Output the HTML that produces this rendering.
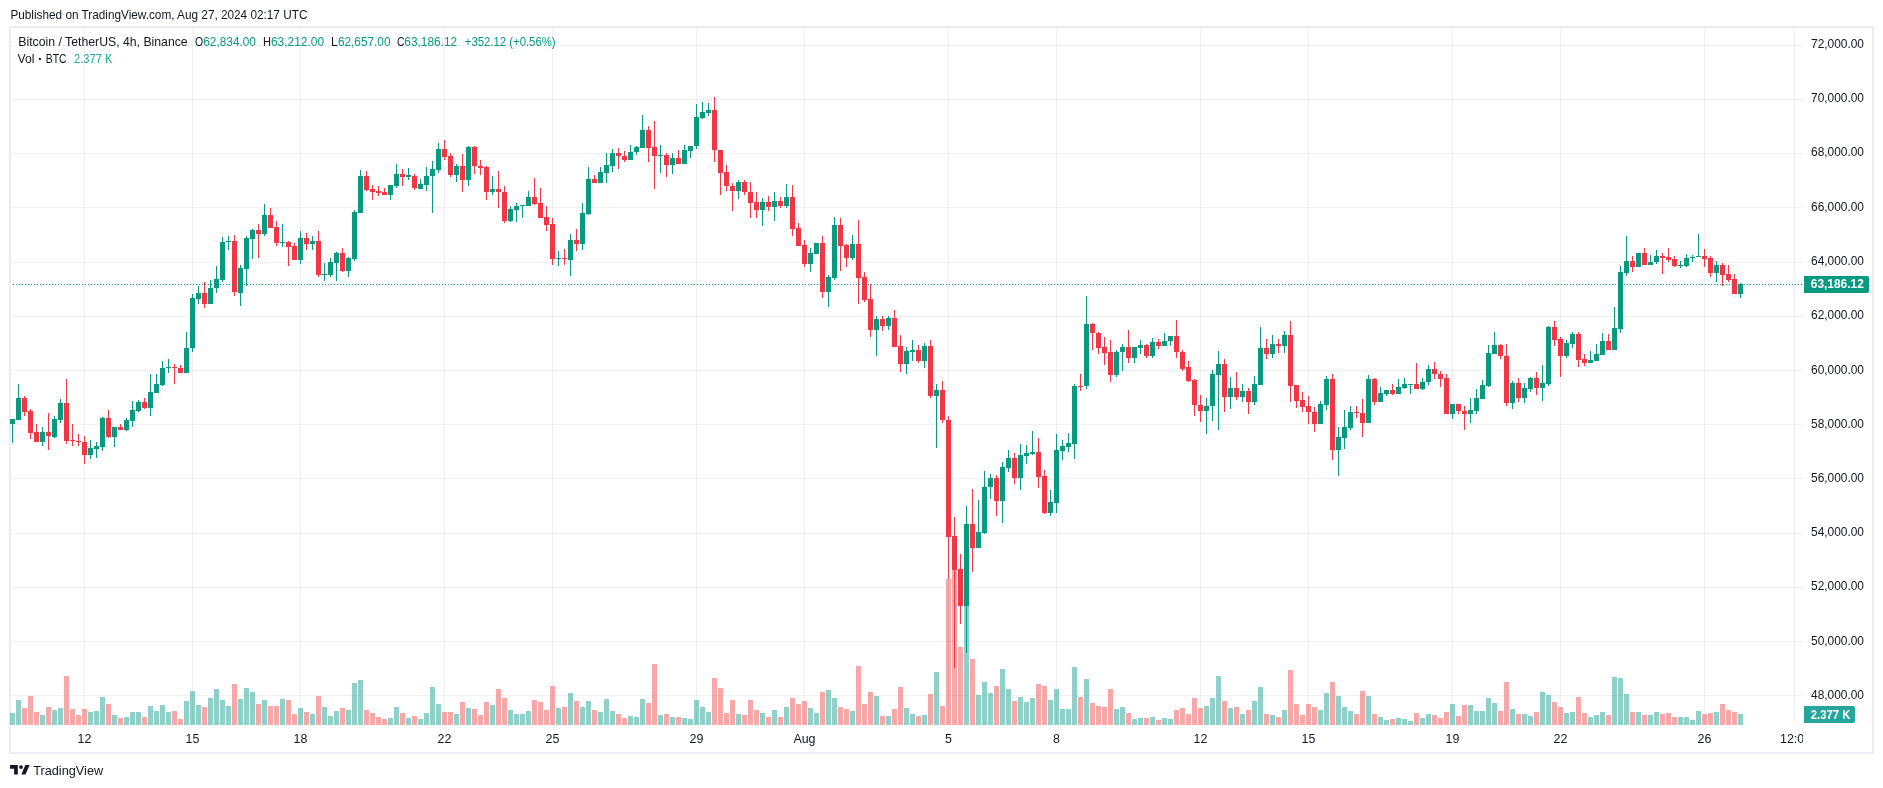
<!DOCTYPE html><html><head><meta charset="utf-8"><title>BTCUSDT 4h chart</title><style>html,body{margin:0;padding:0;background:#fff;}body{width:1883px;height:788px;overflow:hidden;position:relative;font-family:"Liberation Sans", sans-serif;}svg{position:absolute;left:0;top:0;display:block;will-change:transform;}text{font-family:"Liberation Sans",sans-serif;}</style></head><body><svg width="1883" height="788" viewBox="0 0 1883 788"><defs><clipPath id="pane"><rect x="10" y="28" width="1793" height="697"/></clipPath></defs><text x="10.4" y="19" font-size="13" fill="#131722" textLength="297" lengthAdjust="spacingAndGlyphs">Published on TradingView.com, Aug 27, 2024 02:17 UTC</text><rect x="10" y="27" width="1863" height="726" fill="none" stroke="#ecedf2" stroke-width="2"/><path d="M11 45.5H1803M11 99.5H1803M11 153.5H1803M11 207.5H1803M11 262.5H1803M11 316.5H1803M11 370.5H1803M11 424.5H1803M11 478.5H1803M11 533.5H1803M11 587.5H1803M11 641.5H1803M11 695.5H1803" stroke="rgba(42,46,57,0.065)" stroke-width="1" fill="none" shape-rendering="crispEdges"/><path d="M84.5 28V725M192.5 28V725M300.5 28V725M444.5 28V725M552.5 28V725M696.5 28V725M804.5 28V725M948.5 28V725M1056.5 28V725M1200.5 28V725M1308.5 28V725M1452.5 28V725M1560.5 28V725M1704.5 28V725M1794.5 28V725" stroke="rgba(42,46,57,0.065)" stroke-width="1" fill="none" shape-rendering="crispEdges"/><g clip-path="url(#pane)" shape-rendering="crispEdges"><path d="M10 713h5v12h-5zM16 700h5v25h-5zM40 715h5v10h-5zM52 710h5v15h-5zM58 708h5v17h-5zM88 712h5v13h-5zM94 711h5v14h-5zM100 697h5v28h-5zM112 715h5v10h-5zM124 717h5v8h-5zM130 712h5v13h-5zM136 712h5v13h-5zM148 706h5v19h-5zM154 711h5v14h-5zM160 705h5v20h-5zM166 712h5v13h-5zM184 701h5v24h-5zM190 691h5v34h-5zM196 705h5v20h-5zM208 698h5v27h-5zM214 689h5v36h-5zM220 700h5v25h-5zM226 706h5v19h-5zM238 699h5v26h-5zM244 688h5v37h-5zM250 692h5v33h-5zM262 700h5v25h-5zM280 699h5v26h-5zM298 708h5v17h-5zM310 714h5v11h-5zM322 707h5v18h-5zM328 716h5v9h-5zM334 711h5v14h-5zM346 710h5v15h-5zM352 683h5v42h-5zM358 680h5v45h-5zM388 718h5v7h-5zM394 707h5v18h-5zM406 718h5v7h-5zM418 719h5v6h-5zM424 713h5v12h-5zM430 687h5v38h-5zM436 704h5v21h-5zM454 714h5v11h-5zM466 708h5v17h-5zM490 705h5v20h-5zM508 710h5v15h-5zM514 714h5v11h-5zM520 714h5v11h-5zM526 711h5v14h-5zM556 708h5v17h-5zM568 693h5v32h-5zM580 707h5v18h-5zM586 701h5v24h-5zM598 712h5v13h-5zM604 699h5v26h-5zM610 711h5v14h-5zM628 716h5v9h-5zM634 717h5v8h-5zM640 699h5v26h-5zM658 715h5v10h-5zM670 717h5v8h-5zM682 718h5v7h-5zM688 719h5v6h-5zM694 700h5v25h-5zM700 707h5v18h-5zM706 712h5v13h-5zM736 714h5v11h-5zM760 713h5v12h-5zM772 710h5v15h-5zM784 707h5v18h-5zM808 708h5v17h-5zM814 713h5v12h-5zM826 690h5v35h-5zM832 698h5v27h-5zM850 711h5v14h-5zM874 696h5v29h-5zM886 716h5v9h-5zM904 708h5v17h-5zM910 714h5v11h-5zM922 715h5v10h-5zM934 672h5v53h-5zM964 600h5v125h-5zM976 695h5v30h-5zM982 682h5v43h-5zM988 693h5v32h-5zM1000 669h5v56h-5zM1006 689h5v36h-5zM1018 697h5v28h-5zM1024 702h5v23h-5zM1030 698h5v27h-5zM1048 700h5v25h-5zM1054 689h5v36h-5zM1060 709h5v16h-5zM1066 709h5v16h-5zM1072 667h5v58h-5zM1084 679h5v46h-5zM1114 709h5v16h-5zM1120 707h5v18h-5zM1132 719h5v6h-5zM1138 718h5v7h-5zM1150 717h5v8h-5zM1162 718h5v7h-5zM1168 719h5v6h-5zM1204 706h5v19h-5zM1210 698h5v27h-5zM1216 676h5v49h-5zM1228 708h5v17h-5zM1240 714h5v11h-5zM1252 701h5v24h-5zM1258 687h5v38h-5zM1270 715h5v10h-5zM1282 710h5v15h-5zM1318 710h5v15h-5zM1324 693h5v32h-5zM1336 696h5v29h-5zM1342 707h5v18h-5zM1348 711h5v14h-5zM1366 696h5v29h-5zM1378 717h5v8h-5zM1384 720h5v5h-5zM1396 718h5v7h-5zM1402 719h5v6h-5zM1408 721h5v4h-5zM1420 718h5v7h-5zM1426 714h5v11h-5zM1450 704h5v21h-5zM1468 705h5v20h-5zM1474 711h5v14h-5zM1480 711h5v14h-5zM1486 698h5v27h-5zM1492 703h5v22h-5zM1510 709h5v16h-5zM1522 714h5v11h-5zM1528 716h5v9h-5zM1540 692h5v33h-5zM1546 695h5v30h-5zM1564 713h5v12h-5zM1570 712h5v13h-5zM1588 717h5v8h-5zM1594 715h5v10h-5zM1600 712h5v13h-5zM1612 677h5v48h-5zM1618 678h5v47h-5zM1624 694h5v31h-5zM1636 712h5v13h-5zM1648 715h5v10h-5zM1654 712h5v13h-5zM1678 717h5v8h-5zM1684 717h5v8h-5zM1690 720h5v5h-5zM1696 711h5v14h-5zM1714 712h5v13h-5zM1738 714h5v11h-5z" fill="rgba(31,161,145,0.5)"/><path d="M22 708h5v17h-5zM28 696h5v29h-5zM34 712h5v13h-5zM46 707h5v18h-5zM64 676h5v49h-5zM70 709h5v16h-5zM76 715h5v10h-5zM82 709h5v16h-5zM106 704h5v21h-5zM118 718h5v7h-5zM142 717h5v8h-5zM172 711h5v14h-5zM178 719h5v6h-5zM202 707h5v18h-5zM232 684h5v41h-5zM256 704h5v21h-5zM268 706h5v19h-5zM274 706h5v19h-5zM286 700h5v25h-5zM292 714h5v11h-5zM304 712h5v13h-5zM316 696h5v29h-5zM340 708h5v17h-5zM364 710h5v15h-5zM370 713h5v12h-5zM376 717h5v8h-5zM382 719h5v6h-5zM400 713h5v12h-5zM412 716h5v9h-5zM442 712h5v13h-5zM448 712h5v13h-5zM460 702h5v23h-5zM472 709h5v16h-5zM478 715h5v10h-5zM484 702h5v23h-5zM496 689h5v36h-5zM502 698h5v27h-5zM532 700h5v25h-5zM538 702h5v23h-5zM544 710h5v15h-5zM550 686h5v39h-5zM562 707h5v18h-5zM574 701h5v24h-5zM592 710h5v15h-5zM616 714h5v11h-5zM622 718h5v7h-5zM646 703h5v22h-5zM652 664h5v61h-5zM664 714h5v11h-5zM676 717h5v8h-5zM712 678h5v47h-5zM718 688h5v37h-5zM724 713h5v12h-5zM730 700h5v25h-5zM742 715h5v10h-5zM748 700h5v25h-5zM754 710h5v15h-5zM766 717h5v8h-5zM778 717h5v8h-5zM790 698h5v27h-5zM796 704h5v21h-5zM802 701h5v24h-5zM820 692h5v33h-5zM838 707h5v18h-5zM844 709h5v16h-5zM856 666h5v59h-5zM862 704h5v21h-5zM868 692h5v33h-5zM880 716h5v9h-5zM892 709h5v16h-5zM898 687h5v38h-5zM916 716h5v9h-5zM928 694h5v31h-5zM940 706h5v19h-5zM946 579h5v146h-5zM952 570h5v155h-5zM958 647h5v78h-5zM970 659h5v66h-5zM994 686h5v39h-5zM1012 701h5v24h-5zM1036 684h5v41h-5zM1042 686h5v39h-5zM1078 697h5v28h-5zM1090 703h5v22h-5zM1096 706h5v19h-5zM1102 707h5v18h-5zM1108 689h5v36h-5zM1126 713h5v12h-5zM1144 718h5v7h-5zM1156 720h5v5h-5zM1174 710h5v15h-5zM1180 708h5v17h-5zM1186 714h5v11h-5zM1192 698h5v27h-5zM1198 708h5v17h-5zM1222 701h5v24h-5zM1234 707h5v18h-5zM1246 710h5v15h-5zM1264 714h5v11h-5zM1276 717h5v8h-5zM1288 670h5v55h-5zM1294 704h5v21h-5zM1300 715h5v10h-5zM1306 704h5v21h-5zM1312 707h5v18h-5zM1330 682h5v43h-5zM1354 714h5v11h-5zM1360 691h5v34h-5zM1372 714h5v11h-5zM1390 719h5v6h-5zM1414 713h5v12h-5zM1432 715h5v10h-5zM1438 718h5v7h-5zM1444 712h5v13h-5zM1456 716h5v9h-5zM1462 705h5v20h-5zM1498 711h5v14h-5zM1504 682h5v43h-5zM1516 714h5v11h-5zM1534 712h5v13h-5zM1552 702h5v23h-5zM1558 707h5v18h-5zM1576 697h5v28h-5zM1582 713h5v12h-5zM1606 715h5v10h-5zM1630 712h5v13h-5zM1642 715h5v10h-5zM1660 714h5v11h-5zM1666 713h5v12h-5zM1672 717h5v8h-5zM1702 714h5v11h-5zM1708 713h5v12h-5zM1720 704h5v21h-5zM1726 710h5v15h-5zM1732 712h5v13h-5z" fill="rgba(237,81,81,0.5)"/><path d="M12 419h1v24h-1zM10 419h5v5h-5zM18 384h1v36h-1zM16 398h5v22h-5zM42 427h1v19h-1zM40 432h5v10h-5zM54 416h1v22h-1zM52 419h5v18h-5zM60 399h1v24h-1zM58 403h5v17h-5zM90 440h1v19h-1zM88 448h5v7h-5zM96 442h1v16h-1zM94 446h5v3h-5zM102 417h1v34h-1zM100 418h5v29h-5zM114 427h1v20h-1zM112 427h5v10h-5zM126 418h1v13h-1zM124 420h5v10h-5zM132 401h1v26h-1zM130 410h5v11h-5zM138 400h1v12h-1zM136 402h5v9h-5zM150 374h1v42h-1zM148 392h5v16h-5zM156 374h1v19h-1zM154 384h5v9h-5zM162 361h1v25h-1zM160 368h5v17h-5zM168 359h1v14h-1zM166 367h5v1h-5zM186 332h1v41h-1zM184 348h5v25h-5zM192 294h1v58h-1zM190 298h5v50h-5zM198 286h1v18h-1zM196 293h5v6h-5zM210 280h1v24h-1zM208 288h5v16h-5zM216 266h1v27h-1zM214 279h5v9h-5zM222 237h1v45h-1zM220 242h5v38h-5zM228 236h1v14h-1zM226 241h5v1h-5zM240 265h1v41h-1zM238 268h5v25h-5zM246 236h1v50h-1zM244 238h5v31h-5zM252 229h1v30h-1zM250 230h5v9h-5zM264 204h1v32h-1zM262 215h5v19h-5zM282 224h1v23h-1zM280 242h5v1h-5zM300 231h1v33h-1zM298 238h5v22h-5zM312 236h1v14h-1zM310 241h5v3h-5zM324 263h1v18h-1zM322 274h5v1h-5zM330 258h1v19h-1zM328 262h5v13h-5zM336 252h1v29h-1zM334 253h5v10h-5zM348 257h1v20h-1zM346 258h5v13h-5zM354 210h1v51h-1zM352 212h5v47h-5zM360 170h1v43h-1zM358 176h5v37h-5zM390 185h1v15h-1zM388 185h5v10h-5zM396 164h1v24h-1zM394 174h5v12h-5zM408 168h1v12h-1zM406 175h5v2h-5zM420 179h1v10h-1zM418 184h5v5h-5zM426 167h1v24h-1zM424 176h5v9h-5zM432 161h1v52h-1zM430 169h5v7h-5zM438 143h1v30h-1zM436 149h5v21h-5zM456 164h1v18h-1zM454 166h5v9h-5zM468 146h1v40h-1zM466 147h5v33h-5zM492 176h1v19h-1zM490 189h5v3h-5zM510 206h1v16h-1zM508 209h5v12h-5zM516 203h1v19h-1zM514 206h5v4h-5zM522 205h1v13h-1zM520 205h5v1h-5zM528 191h1v15h-1zM526 197h5v9h-5zM558 251h1v15h-1zM556 258h5v1h-5zM570 234h1v42h-1zM568 240h5v20h-5zM582 203h1v47h-1zM580 213h5v31h-5zM588 167h1v48h-1zM586 179h5v35h-5zM600 167h1v16h-1zM598 172h5v11h-5zM606 153h1v30h-1zM604 165h5v8h-5zM612 149h1v23h-1zM610 153h5v13h-5zM630 145h1v15h-1zM628 152h5v8h-5zM636 146h1v9h-1zM634 147h5v5h-5zM642 115h1v33h-1zM640 130h5v18h-5zM660 145h1v28h-1zM658 155h5v1h-5zM672 153h1v21h-1zM670 158h5v7h-5zM684 145h1v19h-1zM682 150h5v14h-5zM690 146h1v12h-1zM688 146h5v5h-5zM696 104h1v45h-1zM694 117h5v29h-5zM702 102h1v17h-1zM700 112h5v6h-5zM708 103h1v13h-1zM706 110h5v3h-5zM738 180h1v19h-1zM736 182h5v9h-5zM762 198h1v28h-1zM760 202h5v8h-5zM774 192h1v29h-1zM772 201h5v6h-5zM786 184h1v24h-1zM784 197h5v9h-5zM810 248h1v24h-1zM808 253h5v11h-5zM816 243h1v11h-1zM814 243h5v11h-5zM828 275h1v32h-1zM826 277h5v15h-5zM834 217h1v63h-1zM832 225h5v53h-5zM852 235h1v25h-1zM850 244h5v14h-5zM876 316h1v40h-1zM874 319h5v11h-5zM888 316h1v14h-1zM886 318h5v8h-5zM906 347h1v27h-1zM904 351h5v13h-5zM912 340h1v21h-1zM910 350h5v2h-5zM924 343h1v25h-1zM922 346h5v15h-5zM936 384h1v64h-1zM934 390h5v6h-5zM966 506h1v147h-1zM964 524h5v82h-5zM978 500h1v48h-1zM976 532h5v16h-5zM984 471h1v63h-1zM982 487h5v46h-5zM990 474h1v25h-1zM988 478h5v9h-5zM1002 462h1v61h-1zM1000 467h5v34h-5zM1008 450h1v22h-1zM1006 458h5v10h-5zM1020 444h1v46h-1zM1018 455h5v23h-5zM1026 445h1v19h-1zM1024 453h5v3h-5zM1032 431h1v24h-1zM1030 452h5v2h-5zM1050 490h1v26h-1zM1048 502h5v11h-5zM1056 434h1v79h-1zM1054 450h5v53h-5zM1062 440h1v20h-1zM1060 446h5v5h-5zM1068 433h1v19h-1zM1066 443h5v4h-5zM1074 384h1v75h-1zM1072 386h5v58h-5zM1086 296h1v93h-1zM1084 324h5v62h-5zM1116 350h1v27h-1zM1114 352h5v23h-5zM1122 344h1v27h-1zM1120 347h5v5h-5zM1134 347h1v16h-1zM1132 347h5v11h-5zM1140 340h1v14h-1zM1138 345h5v3h-5zM1152 338h1v20h-1zM1150 342h5v14h-5zM1164 333h1v13h-1zM1162 341h5v5h-5zM1170 336h1v10h-1zM1168 336h5v5h-5zM1206 398h1v36h-1zM1204 406h5v5h-5zM1212 370h1v51h-1zM1210 374h5v32h-5zM1218 351h1v79h-1zM1216 364h5v11h-5zM1230 377h1v32h-1zM1228 388h5v9h-5zM1242 384h1v18h-1zM1240 391h5v6h-5zM1254 376h1v29h-1zM1252 384h5v18h-5zM1260 327h1v58h-1zM1258 348h5v37h-5zM1272 335h1v23h-1zM1270 344h5v10h-5zM1284 331h1v22h-1zM1282 335h5v11h-5zM1320 401h1v23h-1zM1318 404h5v20h-5zM1326 376h1v34h-1zM1324 379h5v26h-5zM1338 427h1v49h-1zM1336 437h5v13h-5zM1344 410h1v39h-1zM1342 427h5v11h-5zM1350 406h1v24h-1zM1348 412h5v16h-5zM1368 375h1v48h-1zM1366 379h5v44h-5zM1380 387h1v15h-1zM1378 393h5v9h-5zM1386 390h1v6h-1zM1384 390h5v4h-5zM1398 379h1v15h-1zM1396 387h5v7h-5zM1404 378h1v11h-1zM1402 384h5v4h-5zM1410 384h1v10h-1zM1408 384h5v1h-5zM1422 378h1v12h-1zM1420 382h5v7h-5zM1428 365h1v20h-1zM1426 369h5v13h-5zM1452 404h1v15h-1zM1450 404h5v10h-5zM1470 398h1v25h-1zM1468 410h5v4h-5zM1476 389h1v25h-1zM1474 398h5v13h-5zM1482 380h1v19h-1zM1480 385h5v14h-5zM1488 345h1v42h-1zM1486 353h5v33h-5zM1494 332h1v22h-1zM1492 345h5v9h-5zM1512 381h1v28h-1zM1510 383h5v20h-5zM1524 383h1v20h-1zM1522 388h5v10h-5zM1530 377h1v15h-1zM1528 378h5v11h-5zM1542 365h1v36h-1zM1540 383h5v5h-5zM1548 326h1v60h-1zM1546 327h5v57h-5zM1566 340h1v18h-1zM1564 343h5v13h-5zM1572 332h1v16h-1zM1570 334h5v10h-5zM1590 351h1v12h-1zM1588 360h5v3h-5zM1596 344h1v17h-1zM1594 354h5v7h-5zM1602 333h1v22h-1zM1600 341h5v14h-5zM1614 307h1v43h-1zM1612 328h5v22h-5zM1620 266h1v67h-1zM1618 272h5v57h-5zM1626 236h1v40h-1zM1624 261h5v12h-5zM1638 253h1v14h-1zM1636 253h5v14h-5zM1650 255h1v10h-1zM1648 262h5v3h-5zM1656 250h1v14h-1zM1654 256h5v6h-5zM1680 261h1v7h-1zM1678 265h5v1h-5zM1686 254h1v13h-1zM1684 258h5v8h-5zM1692 255h1v7h-1zM1690 257h5v1h-5zM1698 234h1v23h-1zM1696 256h5v1h-5zM1716 261h1v21h-1zM1714 265h5v8h-5zM1740 283h1v15h-1zM1738 284h5v10h-5z" fill="#089981"/><path d="M24 396h1v20h-1zM22 398h5v14h-5zM30 409h1v30h-1zM28 411h5v22h-5zM36 424h1v18h-1zM34 432h5v10h-5zM48 413h1v37h-1zM46 432h5v4h-5zM66 379h1v65h-1zM64 403h5v38h-5zM72 424h1v22h-1zM70 440h5v1h-5zM78 434h1v12h-1zM76 441h5v1h-5zM84 436h1v28h-1zM82 442h5v13h-5zM108 410h1v28h-1zM106 418h5v19h-5zM120 424h1v6h-1zM118 427h5v3h-5zM144 398h1v11h-1zM142 402h5v6h-5zM174 364h1v20h-1zM172 367h5v1h-5zM180 365h1v8h-1zM178 368h5v5h-5zM204 282h1v26h-1zM202 293h5v11h-5zM234 235h1v61h-1zM232 241h5v51h-5zM258 224h1v34h-1zM256 230h5v4h-5zM270 208h1v20h-1zM268 215h5v13h-5zM276 221h1v25h-1zM274 227h5v16h-5zM288 241h1v25h-1zM286 242h5v5h-5zM294 243h1v17h-1zM292 246h5v14h-5zM306 233h1v17h-1zM304 238h5v6h-5zM318 231h1v46h-1zM316 241h5v34h-5zM342 248h1v24h-1zM340 253h5v18h-5zM366 171h1v20h-1zM364 176h5v14h-5zM372 185h1v15h-1zM370 189h5v3h-5zM378 186h1v10h-1zM376 191h5v2h-5zM384 188h1v7h-1zM382 192h5v3h-5zM402 169h1v17h-1zM400 174h5v3h-5zM414 174h1v16h-1zM412 176h5v12h-5zM444 140h1v20h-1zM442 149h5v8h-5zM450 153h1v24h-1zM448 156h5v19h-5zM462 154h1v38h-1zM460 166h5v14h-5zM474 146h1v28h-1zM472 147h5v19h-5zM480 160h1v15h-1zM478 166h5v2h-5zM486 166h1v34h-1zM484 167h5v25h-5zM498 171h1v37h-1zM496 189h5v3h-5zM504 186h1v37h-1zM502 192h5v29h-5zM534 178h1v27h-1zM532 197h5v7h-5zM540 188h1v30h-1zM538 203h5v15h-5zM546 206h1v25h-1zM544 217h5v8h-5zM552 218h1v47h-1zM550 224h5v35h-5zM564 249h1v16h-1zM562 258h5v1h-5zM576 229h1v22h-1zM574 240h5v4h-5zM594 175h1v8h-1zM592 179h5v4h-5zM618 148h1v21h-1zM616 153h5v3h-5zM624 151h1v11h-1zM622 156h5v4h-5zM648 126h1v36h-1zM646 130h5v18h-5zM654 121h1v68h-1zM652 147h5v9h-5zM666 153h1v24h-1zM664 155h5v10h-5zM678 150h1v14h-1zM676 158h5v6h-5zM714 97h1v65h-1zM712 110h5v40h-5zM720 150h1v45h-1zM718 150h5v23h-5zM726 165h1v26h-1zM724 172h5v14h-5zM732 183h1v28h-1zM730 186h5v5h-5zM744 180h1v15h-1zM742 182h5v10h-5zM750 182h1v36h-1zM748 192h5v11h-5zM756 192h1v26h-1zM754 202h5v8h-5zM768 196h1v15h-1zM766 202h5v5h-5zM780 197h1v11h-1zM778 201h5v5h-5zM792 185h1v51h-1zM790 197h5v32h-5zM798 223h1v23h-1zM796 228h5v18h-5zM804 240h1v27h-1zM802 245h5v19h-5zM822 236h1v62h-1zM820 243h5v49h-5zM840 218h1v53h-1zM838 225h5v21h-5zM846 244h1v23h-1zM844 245h5v13h-5zM858 220h1v84h-1zM856 244h5v34h-5zM864 272h1v30h-1zM862 277h5v23h-5zM870 284h1v53h-1zM868 299h5v31h-5zM882 316h1v15h-1zM880 319h5v7h-5zM894 310h1v37h-1zM892 318h5v29h-5zM900 335h1v37h-1zM898 346h5v18h-5zM918 345h1v18h-1zM916 350h5v11h-5zM930 340h1v58h-1zM928 346h5v50h-5zM942 381h1v42h-1zM940 390h5v30h-5zM948 416h1v163h-1zM946 420h5v117h-5zM954 517h1v151h-1zM952 536h5v34h-5zM960 554h1v70h-1zM958 569h5v37h-5zM972 489h1v83h-1zM970 524h5v24h-5zM996 475h1v41h-1zM994 478h5v23h-5zM1014 453h1v31h-1zM1012 458h5v20h-5zM1038 438h1v50h-1zM1036 452h5v25h-5zM1044 470h1v44h-1zM1042 476h5v37h-5zM1080 374h1v17h-1zM1078 386h5v1h-5zM1092 323h1v27h-1zM1090 324h5v9h-5zM1098 332h1v22h-1zM1096 333h5v15h-5zM1104 337h1v28h-1zM1102 347h5v6h-5zM1110 340h1v42h-1zM1108 352h5v23h-5zM1128 330h1v33h-1zM1126 347h5v11h-5zM1146 344h1v14h-1zM1144 345h5v11h-5zM1158 339h1v10h-1zM1156 342h5v4h-5zM1176 320h1v38h-1zM1174 336h5v16h-5zM1182 350h1v21h-1zM1180 352h5v17h-5zM1188 361h1v21h-1zM1186 367h5v14h-5zM1194 379h1v37h-1zM1192 380h5v25h-5zM1200 395h1v27h-1zM1198 405h5v6h-5zM1224 359h1v53h-1zM1222 364h5v33h-5zM1236 372h1v28h-1zM1234 388h5v9h-5zM1248 388h1v26h-1zM1246 391h5v11h-5zM1266 339h1v20h-1zM1264 348h5v6h-5zM1278 339h1v14h-1zM1276 344h5v2h-5zM1290 321h1v81h-1zM1288 335h5v51h-5zM1296 385h1v23h-1zM1294 385h5v16h-5zM1302 392h1v20h-1zM1300 400h5v7h-5zM1308 396h1v28h-1zM1306 406h5v6h-5zM1314 407h1v25h-1zM1312 412h5v12h-5zM1332 374h1v86h-1zM1330 379h5v71h-5zM1356 406h1v12h-1zM1354 412h5v1h-5zM1362 399h1v38h-1zM1360 413h5v10h-5zM1374 378h1v27h-1zM1372 379h5v23h-5zM1392 384h1v11h-1zM1390 390h5v4h-5zM1416 363h1v26h-1zM1414 384h5v5h-5zM1434 362h1v17h-1zM1432 369h5v5h-5zM1440 371h1v16h-1zM1438 374h5v5h-5zM1446 374h1v40h-1zM1444 378h5v36h-5zM1458 404h1v10h-1zM1456 404h5v7h-5zM1464 406h1v24h-1zM1462 411h5v3h-5zM1500 344h1v15h-1zM1498 345h5v11h-5zM1506 344h1v62h-1zM1504 356h5v47h-5zM1518 378h1v24h-1zM1516 383h5v15h-5zM1536 372h1v23h-1zM1534 378h5v10h-5zM1554 321h1v25h-1zM1552 327h5v13h-5zM1560 337h1v40h-1zM1558 339h5v17h-5zM1578 332h1v35h-1zM1576 334h5v26h-5zM1584 354h1v12h-1zM1582 359h5v4h-5zM1608 334h1v16h-1zM1606 341h5v9h-5zM1632 256h1v16h-1zM1630 261h5v6h-5zM1644 248h1v17h-1zM1642 253h5v12h-5zM1662 253h1v21h-1zM1660 256h5v2h-5zM1668 248h1v14h-1zM1666 257h5v3h-5zM1674 256h1v11h-1zM1672 259h5v7h-5zM1704 249h1v18h-1zM1702 256h5v3h-5zM1710 256h1v21h-1zM1708 258h5v15h-5zM1722 263h1v23h-1zM1720 265h5v10h-5zM1728 265h1v17h-1zM1726 274h5v6h-5zM1734 274h1v20h-1zM1732 279h5v15h-5z" fill="#f23645"/></g><line x1="13" y1="284.5" x2="1803" y2="284.5" stroke="#089981" stroke-width="1" stroke-dasharray="1 2" shape-rendering="crispEdges"/><text x="1811" y="48" font-size="12.6" fill="#131722" textLength="53" lengthAdjust="spacingAndGlyphs">72,000.00</text><text x="1811" y="102" font-size="12.6" fill="#131722" textLength="53" lengthAdjust="spacingAndGlyphs">70,000.00</text><text x="1811" y="156" font-size="12.6" fill="#131722" textLength="53" lengthAdjust="spacingAndGlyphs">68,000.00</text><text x="1811" y="211" font-size="12.6" fill="#131722" textLength="53" lengthAdjust="spacingAndGlyphs">66,000.00</text><text x="1811" y="265" font-size="12.6" fill="#131722" textLength="53" lengthAdjust="spacingAndGlyphs">64,000.00</text><text x="1811" y="319" font-size="12.6" fill="#131722" textLength="53" lengthAdjust="spacingAndGlyphs">62,000.00</text><text x="1811" y="374" font-size="12.6" fill="#131722" textLength="53" lengthAdjust="spacingAndGlyphs">60,000.00</text><text x="1811" y="428" font-size="12.6" fill="#131722" textLength="53" lengthAdjust="spacingAndGlyphs">58,000.00</text><text x="1811" y="482" font-size="12.6" fill="#131722" textLength="53" lengthAdjust="spacingAndGlyphs">56,000.00</text><text x="1811" y="536" font-size="12.6" fill="#131722" textLength="53" lengthAdjust="spacingAndGlyphs">54,000.00</text><text x="1811" y="590" font-size="12.6" fill="#131722" textLength="53" lengthAdjust="spacingAndGlyphs">52,000.00</text><text x="1811" y="645" font-size="12.6" fill="#131722" textLength="53" lengthAdjust="spacingAndGlyphs">50,000.00</text><text x="1811" y="699" font-size="12.6" fill="#131722" textLength="53" lengthAdjust="spacingAndGlyphs">48,000.00</text><path d="M1804 276H1867a2 2 0 0 1 2 2V291a2 2 0 0 1 -2 2H1804Z" fill="#089981"/><text x="1810.8" y="288" font-size="12.6" font-weight="bold" fill="#fff" textLength="53" lengthAdjust="spacingAndGlyphs">63,186.12</text><path d="M1804 706H1853a2 2 0 0 1 2 2V721a2 2 0 0 1 -2 2H1804Z" fill="#26a69a"/><text x="1810.8" y="719" font-size="12.6" font-weight="bold" fill="#fff" textLength="39.5" lengthAdjust="spacingAndGlyphs">2.377 K</text><text x="84.5" y="743" font-size="12.4" fill="#131722" text-anchor="middle">12</text><text x="192.5" y="743" font-size="12.4" fill="#131722" text-anchor="middle">15</text><text x="300.5" y="743" font-size="12.4" fill="#131722" text-anchor="middle">18</text><text x="444.5" y="743" font-size="12.4" fill="#131722" text-anchor="middle">22</text><text x="552.5" y="743" font-size="12.4" fill="#131722" text-anchor="middle">25</text><text x="696.5" y="743" font-size="12.4" fill="#131722" text-anchor="middle">29</text><text x="804.5" y="743" font-size="12.4" fill="#131722" text-anchor="middle">Aug</text><text x="948.5" y="743" font-size="12.4" fill="#131722" text-anchor="middle">5</text><text x="1056.5" y="743" font-size="12.4" fill="#131722" text-anchor="middle">8</text><text x="1200.5" y="743" font-size="12.4" fill="#131722" text-anchor="middle">12</text><text x="1308.5" y="743" font-size="12.4" fill="#131722" text-anchor="middle">15</text><text x="1452.5" y="743" font-size="12.4" fill="#131722" text-anchor="middle">19</text><text x="1560.5" y="743" font-size="12.4" fill="#131722" text-anchor="middle">22</text><text x="1704.5" y="743" font-size="12.4" fill="#131722" text-anchor="middle">26</text><svg x="1770" y="728" width="33" height="22" overflow="hidden"><text x="10" y="15" font-size="12.4" fill="#131722">12:00</text></svg><text x="18.3" y="46.2" font-size="13" fill="#131722" textLength="169.4" lengthAdjust="spacingAndGlyphs">Bitcoin / TetherUS, 4h, Binance</text><text x="194.9" y="46.2" font-size="13" fill="#131722" textLength="8.2" lengthAdjust="spacingAndGlyphs">O</text><text x="203.3" y="46.2" font-size="13" fill="#089981" textLength="52.6" lengthAdjust="spacingAndGlyphs">62,834.00</text><text x="262.9" y="46.2" font-size="13" fill="#131722" textLength="8" lengthAdjust="spacingAndGlyphs">H</text><text x="270.9" y="46.2" font-size="13" fill="#089981" textLength="53.2" lengthAdjust="spacingAndGlyphs">63,212.00</text><text x="331" y="46.2" font-size="13" fill="#131722" textLength="6.6" lengthAdjust="spacingAndGlyphs">L</text><text x="337.9" y="46.2" font-size="13" fill="#089981" textLength="52.6" lengthAdjust="spacingAndGlyphs">62,657.00</text><text x="397" y="46.2" font-size="13" fill="#131722" textLength="7.6" lengthAdjust="spacingAndGlyphs">C</text><text x="404.3" y="46.2" font-size="13" fill="#089981" textLength="52.8" lengthAdjust="spacingAndGlyphs">63,186.12</text><text x="464.8" y="46.2" font-size="13" fill="#089981" textLength="90.8" lengthAdjust="spacingAndGlyphs">+352.12 (+0.56%)</text><text x="17.6" y="63" font-size="13" fill="#131722" textLength="17" lengthAdjust="spacingAndGlyphs">Vol</text><circle cx="39.9" cy="59" r="1.15" fill="#131722"/><text x="45.8" y="63" font-size="13" fill="#131722" textLength="20.8" lengthAdjust="spacingAndGlyphs">BTC</text><text x="74.1" y="63" font-size="13" fill="#22ab94" textLength="38.2" lengthAdjust="spacingAndGlyphs">2.377 K</text><g fill="#131722"><path d="M10 765H17.8V774.6H14.1V768.7H10Z"/><circle cx="21" cy="767.1" r="1.9"/><path d="M25.3 765H29.6L25.5 774.6H21.4Z"/></g><text x="33.2" y="774.7" font-size="13" fill="#131722" textLength="70" lengthAdjust="spacingAndGlyphs">TradingView</text></svg></body></html>
